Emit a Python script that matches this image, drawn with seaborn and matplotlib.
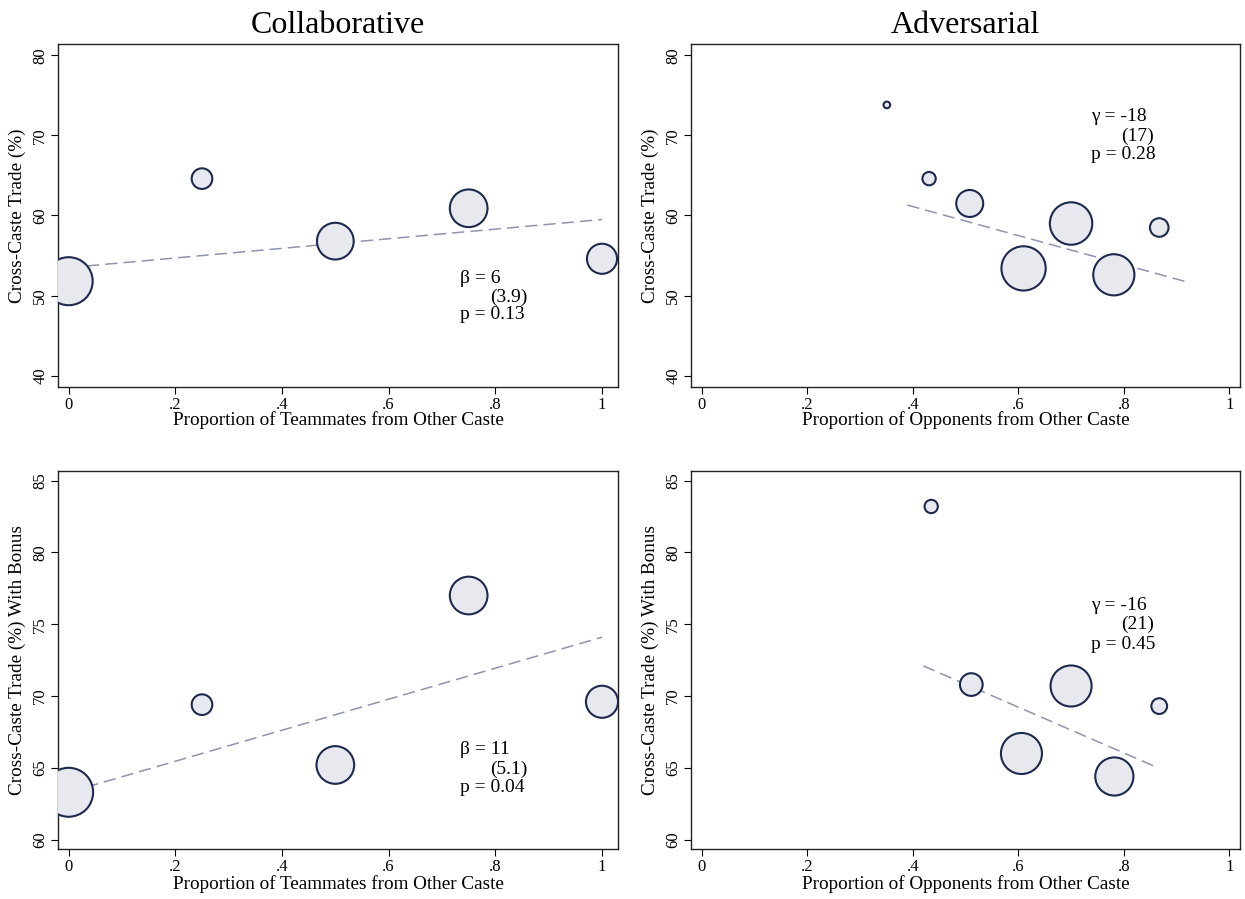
import matplotlib
matplotlib.use("Agg")
import matplotlib.pyplot as plt
import seaborn as sns
import pandas as pd

# ---------------- data ----------------
collab_x = [0.0, 0.25, 0.5, 0.75, 1.0]
collab_trade = [51.8, 64.6, 56.8, 60.9, 54.6]
collab_trade_w = [26.0, 4.8, 15.2, 16.0, 10.2]
collab_bonus = [63.3, 69.4, 65.2, 77.0, 69.6]
collab_bonus_w = [27.0, 4.8, 16.0, 16.0, 11.6]

adv_x = [0.351, 0.431, 0.508, 0.610, 0.700, 0.781, 0.867]
adv_trade = [73.8, 64.6, 61.5, 53.4, 59.0, 52.6, 58.5]
adv_trade_w = [0.5, 2.0, 8.2, 22.1, 20.3, 19.1, 3.9]
adv_bonus_x = [0.435, 0.511, 0.606, 0.700, 0.782, 0.867]
adv_bonus = [83.2, 70.8, 66.0, 70.7, 64.4, 69.3]
adv_bonus_w = [2.0, 5.8, 19.0, 19.0, 16.4, 2.8]

fit_collab_x = [0.0, 1.0]
fit_collab_trade = [53.5, 59.5]
fit_collab_bonus = [63.3, 74.1]
fit_adv_x = [0.39, 0.92]
fit_adv_trade = [61.3, 51.7]
fit_adv_bonus_x = [0.42, 0.865]
fit_adv_bonus = [72.1, 65.0]

notes = {
    "tl": ["β = 6", "(3.9)", "p = 0.13"],
    "tr": ["γ = -18", "(17)", "p = 0.28"],
    "bl": ["β = 11", "(5.1)", "p = 0.04"],
    "br": ["γ = -16", "(21)", "p = 0.45"],
}

x_ticks = [0, 0.2, 0.4, 0.6, 0.8, 1.0]
x_ticklabels = ["0", ".2", ".4", ".6", ".8", "1"]

# ---------------- style ----------------
sns.set_theme(style="white")
plt.rcParams["font.family"] = ["Liberation Serif", "DejaVu Serif"]
plt.rcParams["text.color"] = "black"
plt.rcParams["axes.labelcolor"] = "black"
plt.rcParams["xtick.color"] = "black"
plt.rcParams["ytick.color"] = "black"

FILL = "#E8E9EE"
EDGE = "#1B2A4E"
FITC = "#8E93B0"
K = 46.0  # pt^2 per weight unit

fig = plt.figure(figsize=(12.45, 8.99), dpi=100)

W, H = 1245, 899
def rect(l, r, t, b):
    return [l / W, 1 - b / H, (r - l) / W, (b - t) / H]

ax_tl = fig.add_axes(rect(58, 618, 44, 387))
ax_tr = fig.add_axes(rect(691, 1240, 44, 387))
ax_bl = fig.add_axes(rect(58, 618, 471, 849))
ax_br = fig.add_axes(rect(691, 1240, 471, 849))

panels = [
    (ax_tl, collab_x, collab_trade, collab_trade_w, fit_collab_x, fit_collab_trade,
     (-0.02, 1.03), (38.6, 81.4), [40, 50, 60, 70, 80], "Cross-Caste Trade (%)",
     "Proportion of Teammates from Other Caste", notes["tl"],
     (0.734, [52.2, 49.8, 47.6]), "Collaborative"),
    (ax_tr, adv_x, adv_trade, adv_trade_w, fit_adv_x, fit_adv_trade,
     (-0.02, 1.02), (38.6, 81.4), [40, 50, 60, 70, 80], "Cross-Caste Trade (%)",
     "Proportion of Opponents from Other Caste", notes["tr"],
     (0.738, [72.3, 69.9, 67.6]), "Adversarial"),
    (ax_bl, collab_x, collab_bonus, collab_bonus_w, fit_collab_x, fit_collab_bonus,
     (-0.02, 1.03), (59.35, 85.67), [60, 65, 70, 75, 80, 85], "Cross-Caste Trade (%) With Bonus",
     "Proportion of Teammates from Other Caste", notes["bl"],
     (0.734, [66.3, 64.9, 63.6]), None),
    (ax_br, adv_bonus_x, adv_bonus, adv_bonus_w, fit_adv_bonus_x, fit_adv_bonus,
     (-0.02, 1.02), (59.35, 85.67), [60, 65, 70, 75, 80, 85], "Cross-Caste Trade (%) With Bonus",
     "Proportion of Opponents from Other Caste", notes["br"],
     (0.738, [76.3, 75.0, 73.6]), None),
]

for (ax, xs, ys, ws, fx, fy, xlim, ylim, yticks, ylab, xlab, note, npos, title) in panels:
    df = pd.DataFrame({"x": xs, "y": ys, "w": ws})
    fdf = pd.DataFrame({"x": fx, "y": fy})
    ln = sns.lineplot(data=fdf, x="x", y="y", ax=ax, color=FITC, lw=1.1, zorder=1)
    ln.lines[0].set_dashes([8, 4])
    sns.scatterplot(data=df, x="x", y="y", size="w", sizes=(0, K * 30), size_norm=(0, 30),
                    ax=ax, color=FILL, edgecolor=EDGE, linewidth=1.5, legend=False, zorder=3)
    ax.set_xlim(*xlim)
    ax.set_ylim(*ylim)
    ax.set_xticks(x_ticks)
    ax.set_xticklabels(x_ticklabels)
    ax.set_yticks(yticks)
    ax.set_yticklabels([str(t) for t in yticks], rotation=90, va="center")
    ax.tick_params(direction="out", length=5, width=0.8, color="black", labelsize=12,
                   labelcolor="black", bottom=True, left=True, pad=2)
    for sp in ax.spines.values():
        sp.set_visible(True)
        sp.set_color("#222222")
        sp.set_linewidth(1.0)
    ax.set_xlabel(xlab, fontsize=13.8, color="black")
    ax.set_ylabel(ylab, fontsize=13.8, color="black")
    ax.xaxis.set_label_coords(0.5, -0.07)
    ax.yaxis.set_label_coords(-0.058, 0.5)
    ax.grid(False)
    nx, nys = npos
    ax.text(nx, nys[0], note[0], fontsize=14, va="center", ha="left", color="black")
    ax.text(nx + 0.057, nys[1], note[1], fontsize=14, va="center", ha="left", color="black")
    ax.text(nx, nys[2], note[2], fontsize=14, va="center", ha="left", color="black")
    if title:
        ax.set_title(title, fontsize=23, pad=8, color="black")

fig.savefig("out.png", dpi=100, facecolor="white")
